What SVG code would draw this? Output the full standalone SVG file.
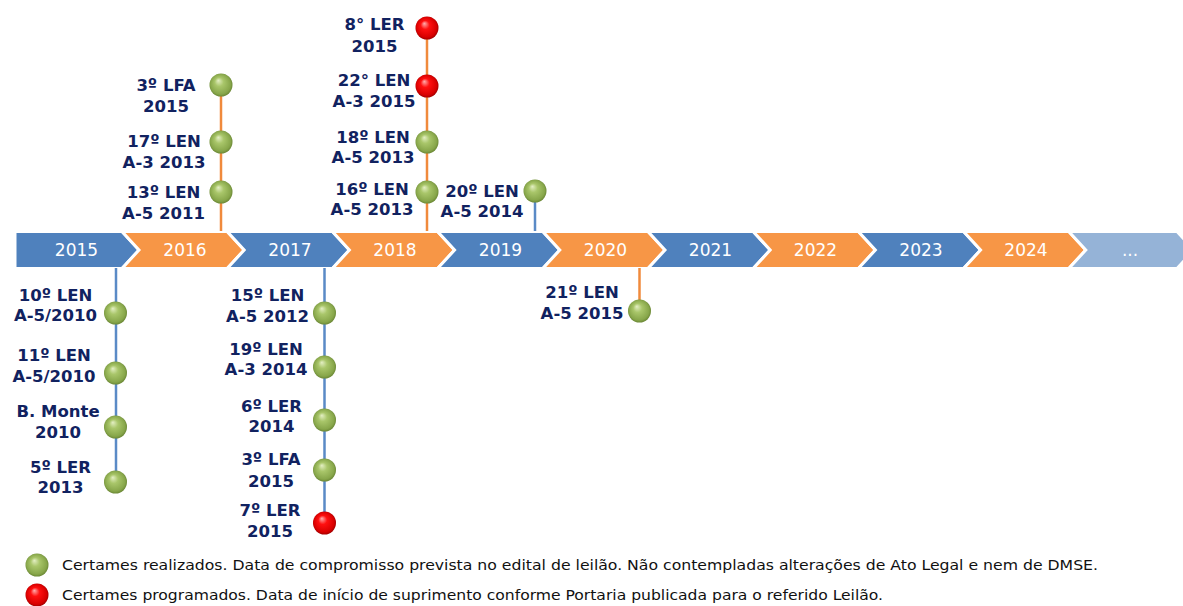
<svg xmlns="http://www.w3.org/2000/svg" width="1183" height="606" viewBox="0 0 1183 606">
<defs>
<radialGradient id="gG" cx="0.5" cy="0.5" r="0.55" fx="0.38" fy="0.3">
<stop offset="0" stop-color="#E4EFC4"/>
<stop offset="0.35" stop-color="#A9C66A"/>
<stop offset="0.8" stop-color="#87A64A"/>
<stop offset="1" stop-color="#5E7A2C"/>
</radialGradient>
<radialGradient id="gR" cx="0.5" cy="0.5" r="0.55" fx="0.38" fy="0.3">
<stop offset="0" stop-color="#FFB0B0"/>
<stop offset="0.35" stop-color="#FF1010"/>
<stop offset="0.8" stop-color="#D80000"/>
<stop offset="1" stop-color="#8A0000"/>
</radialGradient>
<style>
.blue{fill:#4F81BD;stroke:#FFFFFF;stroke-width:3;stroke-linejoin:miter}
.orange{fill:#F79646;stroke:#FFFFFF;stroke-width:3;stroke-linejoin:miter}
.light{fill:#95B3D7;stroke:#FFFFFF;stroke-width:3;stroke-linejoin:miter}
.yr{font-family:"DejaVu Sans","Liberation Sans",sans-serif;font-size:17px;fill:#FFFFFF;text-anchor:middle}
.lb{font-family:"DejaVu Sans","Liberation Sans",sans-serif;font-size:16.5px;font-weight:bold;fill:#112260;text-anchor:middle}
.lg{font-family:"DejaVu Sans Condensed","Liberation Sans Narrow","Liberation Sans",sans-serif;font-size:14.5px;fill:#111111}
.lnb{stroke:#5A8AC6;stroke-width:2.5;fill:none}
.lno{stroke:#F08A3C;stroke-width:2.5;fill:none}
.g{fill:url(#gG)}
.r{fill:url(#gR)}
</style>
</defs>
<g id="timeline">
<polygon class="blue" points="15,231.5 122,231.5 139,250 122,268.5 15,268.5"/>
<polygon class="orange" points="122,231.5 227.2,231.5 244.2,250 227.2,268.5 122,268.5 139,250"/>
<polygon class="blue" points="227.2,231.5 332.4,231.5 349.4,250 332.4,268.5 227.2,268.5 244.2,250"/>
<polygon class="orange" points="332.4,231.5 437.6,231.5 454.6,250 437.6,268.5 332.4,268.5 349.4,250"/>
<polygon class="blue" points="437.6,231.5 542.8,231.5 559.8,250 542.8,268.5 437.6,268.5 454.6,250"/>
<polygon class="orange" points="542.8,231.5 648,231.5 665,250 648,268.5 542.8,268.5 559.8,250"/>
<polygon class="blue" points="648,231.5 753.2,231.5 770.2,250 753.2,268.5 648,268.5 665,250"/>
<polygon class="orange" points="753.2,231.5 858.4,231.5 875.4,250 858.4,268.5 753.2,268.5 770.2,250"/>
<polygon class="blue" points="858.4,231.5 963.6,231.5 980.6,250 963.6,268.5 858.4,268.5 875.4,250"/>
<polygon class="orange" points="963.6,231.5 1068.8,231.5 1085.8,250 1068.8,268.5 963.6,268.5 980.6,250"/>
<polygon class="light" points="1068.8,231.5 1177,231.5 1194,250 1177,268.5 1068.8,268.5 1085.8,250"/>
<text class="yr" x="76.5" y="255.5">2015</text>
<text class="yr" x="185" y="255.5">2016</text>
<text class="yr" x="290" y="255.5">2017</text>
<text class="yr" x="395" y="255.5">2018</text>
<text class="yr" x="500.5" y="255.5">2019</text>
<text class="yr" x="605.5" y="255.5">2020</text>
<text class="yr" x="710.5" y="255.5">2021</text>
<text class="yr" x="815.5" y="255.5">2022</text>
<text class="yr" x="921" y="255.5">2023</text>
<text class="yr" x="1026" y="255.5">2024</text>
<text class="yr" x="1130" y="255.5">...</text>
</g>
<g id="connectors">
<line class="lnb" x1="116" y1="268" x2="116" y2="482"/>
<line class="lno" x1="221" y1="85" x2="221" y2="231"/>
<line class="lnb" x1="324.5" y1="268" x2="324.5" y2="523"/>
<line class="lno" x1="427" y1="28" x2="427" y2="231"/>
<line class="lnb" x1="535" y1="191" x2="535" y2="231"/>
<line class="lno" x1="639.5" y1="268" x2="639.5" y2="311"/>
</g>
<g id="n10LEN"><circle class="g" cx="115.5" cy="313" r="11.5"/><text class="lb" x="55.5" y="301">10º LEN</text><text class="lb" x="55.5" y="321">A-5/2010</text></g>
<g id="n11LEN"><circle class="g" cx="115.5" cy="373" r="11.5"/><text class="lb" x="54" y="361">11º LEN</text><text class="lb" x="54" y="381.5">A-5/2010</text></g>
<g id="nBMonte"><circle class="g" cx="115.5" cy="427" r="11.5"/><text class="lb" x="58" y="416.5">B. Monte</text><text class="lb" x="58" y="438">2010</text></g>
<g id="n5LER"><circle class="g" cx="115.5" cy="482" r="11.5"/><text class="lb" x="60.5" y="473">5º LER</text><text class="lb" x="60.5" y="493">2013</text></g>
<g id="n3LFA2016"><circle class="g" cx="221" cy="85" r="11.5"/><text class="lb" x="166" y="90.5">3º LFA</text><text class="lb" x="166" y="111.5">2015</text></g>
<g id="n17LEN"><circle class="g" cx="221" cy="142" r="11.5"/><text class="lb" x="164" y="146.5">17º LEN</text><text class="lb" x="164" y="168">A-3 2013</text></g>
<g id="n13LEN"><circle class="g" cx="221" cy="192" r="11.5"/><text class="lb" x="163.5" y="198">13º LEN</text><text class="lb" x="163.5" y="219">A-5 2011</text></g>
<g id="n15LEN"><circle class="g" cx="324.5" cy="313" r="11.5"/><text class="lb" x="267.5" y="300.5">15º LEN</text><text class="lb" x="267.5" y="321.5">A-5 2012</text></g>
<g id="n19LEN"><circle class="g" cx="324.5" cy="367" r="11.5"/><text class="lb" x="266" y="355">19º LEN</text><text class="lb" x="266" y="375">A-3 2014</text></g>
<g id="n6LER"><circle class="g" cx="324.5" cy="420" r="11.5"/><text class="lb" x="271.5" y="411.5">6º LER</text><text class="lb" x="271.5" y="432">2014</text></g>
<g id="n3LFA2017"><circle class="g" cx="324.5" cy="470" r="11.5"/><text class="lb" x="271" y="465">3º LFA</text><text class="lb" x="271" y="486.5">2015</text></g>
<g id="n7LER"><circle class="r" cx="324.5" cy="523" r="11.5"/><text class="lb" x="270" y="516">7º LER</text><text class="lb" x="270" y="536.5">2015</text></g>
<g id="n8LER"><circle class="r" cx="427" cy="28" r="11.5"/><text class="lb" x="374.5" y="30">8° LER</text><text class="lb" x="374.5" y="51.5">2015</text></g>
<g id="n22LEN"><circle class="r" cx="427" cy="86" r="11.5"/><text class="lb" x="374" y="86">22° LEN</text><text class="lb" x="374" y="106.5">A-3 2015</text></g>
<g id="n18LEN"><circle class="g" cx="427" cy="142" r="11.5"/><text class="lb" x="373" y="142.5">18º LEN</text><text class="lb" x="373" y="163">A-5 2013</text></g>
<g id="n16LEN"><circle class="g" cx="427" cy="192" r="11.5"/><text class="lb" x="372" y="195">16º LEN</text><text class="lb" x="372" y="215">A-5 2013</text></g>
<g id="n20LEN"><circle class="g" cx="535" cy="191" r="11.5"/><text class="lb" x="482" y="196.5">20º LEN</text><text class="lb" x="482" y="216.5">A-5 2014</text></g>
<g id="n21LEN"><circle class="g" cx="639.5" cy="311" r="11.5"/><text class="lb" x="582" y="298">21º LEN</text><text class="lb" x="582" y="319">A-5 2015</text></g>
<g id="legend">
<circle class="g" cx="37" cy="565" r="11.5"/>
<text class="lg" x="62" y="570" textLength="1036" lengthAdjust="spacingAndGlyphs">Certames realizados. Data de compromisso prevista no edital de leilão. Não contempladas alterações de Ato Legal e nem de DMSE.</text>
<circle class="r" cx="37" cy="595" r="11.5"/>
<text class="lg" x="62" y="600" textLength="821" lengthAdjust="spacingAndGlyphs">Certames programados. Data de início de suprimento conforme Portaria publicada para o referido Leilão.</text>
</g>
</svg>
